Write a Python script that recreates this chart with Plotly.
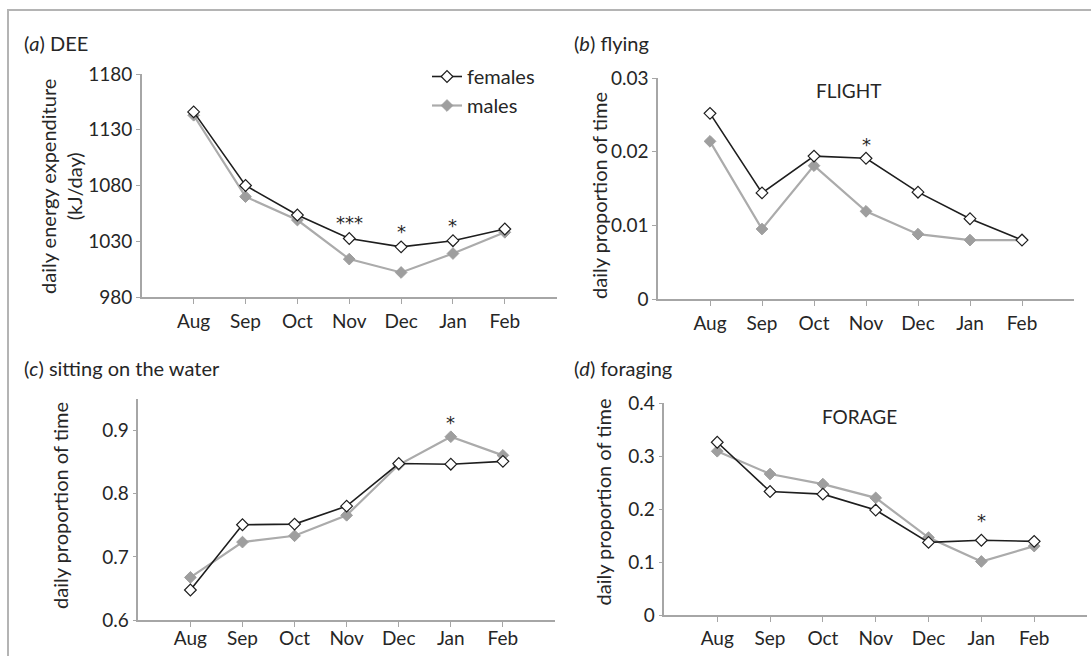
import plotly.graph_objects as go

W, H = 1091, 656
FONT = "Lato"

months = ["Aug", "Sep", "Oct", "Nov", "Dec", "Jan", "Feb"]

# (a) DEE (kJ/day)
dee_females = [1146, 1080, 1053.5, 1032.5, 1025, 1030.5, 1041]
dee_males = [1143, 1070, 1049, 1014, 1002, 1019, 1038]
dee_sig = {"Nov": "***", "Dec": "*", "Jan": "*"}

# (b) flying
fly_females = [0.0252, 0.0144, 0.0194, 0.0191, 0.0145, 0.0109, 0.0080]
fly_males = [0.0214, 0.0095, 0.0181, 0.0119, 0.0088, 0.0080, 0.0080]
fly_sig = {"Nov": "*"}

# (c) sitting on the water
sit_females = [0.6475, 0.751, 0.752, 0.7805, 0.848, 0.847, 0.8515]
sit_males = [0.6675, 0.7235, 0.7335, 0.766, 0.846, 0.8905, 0.861]
sit_sig = {"Jan": "*"}

# (d) foraging
for_females = [0.326, 0.233, 0.228, 0.198, 0.137, 0.141, 0.139]
for_males = [0.309, 0.266, 0.247, 0.221, 0.146, 0.101, 0.130]
for_sig = {"Jan": "*"}

panels = [
    dict(title="(<i>a</i>) DEE", f=dee_females, m=dee_males, sig=dee_sig,
         yr=[980, 1180], tv=[980, 1030, 1080, 1130, 1180],
         tt=["980", "1030", "1080", "1130", "1180"],
         ytitle="daily energy expenditure<br>(kJ/day)",
         xpx=(141.8, 556.7), ypx=(297, 74), title_px=(22, 43), ytitle_px=(61, 187),
         label=None, xstand=1, sigshift=3),
    dict(title="(<i>b</i>) flying", f=fly_females, m=fly_males, sig=fly_sig,
         yr=[0, 0.03], tv=[0, 0.01, 0.02, 0.03], tt=["0", "0.01", "0.02", "0.03"],
         ytitle="daily proportion of time",
         xpx=(658, 1074), ypx=(299, 78), title_px=(572, 43), ytitle_px=(599, 196),
         label=("FLIGHT", 848, 91), xstand=1, sigshift=1),
    dict(title="(<i>c</i>) sitting on the water", f=sit_females, m=sit_males, sig=sit_sig,
         yr=[0.6, 0.95], tv=[0.6, 0.7, 0.8, 0.9], tt=["0.6", "0.7", "0.8", "0.9"],
         ytitle="daily proportion of time",
         xpx=(138.3, 555), ypx=(620, 399.2), title_px=(22, 368), ytitle_px=(60, 506),
         label=None, xstand=-5, sigshift=2),
    dict(title="(<i>d</i>) foraging", f=for_females, m=for_males, sig=for_sig,
         yr=[0, 0.4], tv=[0, 0.1, 0.2, 0.3, 0.4], tt=["0", "0.1", "0.2", "0.3", "0.4"],
         ytitle="daily proportion of time",
         xpx=(664.4, 1087), ypx=(615, 403), title_px=(572, 368), ytitle_px=(602.5, 502),
         label=("FORAGE", 860, 416), xstand=0, sigshift=7),
]

AXIS_COLOR = "#a6a6a6"
TEXT_COLOR = "#262626"
FEM_COLOR = "#1e1e1e"
MALE_LINE = "#ababab"
MALE_MARK = "#9e9e9e"
FS = 19
FS_T = 20

fig = go.Figure()
layout = dict(
    width=W, height=H, autosize=False,
    margin=dict(l=0, r=0, t=0, b=0, pad=0, autoexpand=False),
    paper_bgcolor="white", plot_bgcolor="white",
    font=dict(family=FONT, size=FS, color=TEXT_COLOR),
    showlegend=True,
    legend=dict(x=427 / W, y=1 - 57 / H, xanchor="left", yanchor="top",
                bgcolor="rgba(0,0,0,0)", font=dict(size=FS_T, color=TEXT_COLOR),
                tracegroupgap=0),
)
annotations = []
xs = list(range(len(months)))

def px_x(p):
    return p / W

def px_y(p):
    return 1 - p / H

for i, p in enumerate(panels, start=1):
    xa = "x" if i == 1 else f"x{i}"
    ya = "y" if i == 1 else f"y{i}"
    fig.add_trace(go.Scatter(
        x=xs, y=p["m"], xaxis=xa, yaxis=ya, mode="lines+markers", name="males",
        legendgroup="m", legendrank=2, showlegend=(i == 1),
        line=dict(color=MALE_LINE, width=2.2),
        marker=dict(symbol="diamond", size=9, color=MALE_MARK,
                    line=dict(color=MALE_MARK, width=1)),
    ))
    fig.add_trace(go.Scatter(
        x=xs, y=p["f"], xaxis=xa, yaxis=ya, mode="lines+markers", name="females",
        legendgroup="f", legendrank=1, showlegend=(i == 1),
        line=dict(color=FEM_COLOR, width=1.6),
        marker=dict(symbol="diamond", size=9, color="white",
                    line=dict(color=FEM_COLOR, width=1.2)),
    ))
    xkey = "xaxis" if i == 1 else f"xaxis{i}"
    ykey = "yaxis" if i == 1 else f"yaxis{i}"
    layout[xkey] = dict(
        domain=[px_x(p["xpx"][0]), px_x(p["xpx"][1])], anchor=ya,
        range=[-1, 7], tickmode="array", tickvals=xs, ticktext=months,
        showline=True, linecolor=AXIS_COLOR, linewidth=1.5,
        ticks="outside", ticklen=5, tickcolor=AXIS_COLOR, tickwidth=1,
        showgrid=False, zeroline=False, fixedrange=True, automargin=False,
        ticklabelstandoff=p["xstand"],
        tickfont=dict(family=FONT, size=FS, color=TEXT_COLOR),
    )
    layout[ykey] = dict(
        domain=[px_y(p["ypx"][0]), px_y(p["ypx"][1])], anchor=xa,
        range=p["yr"], tickmode="array", tickvals=p["tv"], ticktext=p["tt"],
        showline=True, linecolor=AXIS_COLOR, linewidth=1.5,
        ticks="outside", ticklen=4, tickcolor=AXIS_COLOR, tickwidth=1,
        showgrid=False, zeroline=False, fixedrange=True, automargin=False,
        tickfont=dict(family=FONT, size=FS, color=TEXT_COLOR),
    )
    # panel title
    annotations.append(dict(
        text=p["title"], xref="paper", yref="paper",
        x=px_x(p["title_px"][0]), y=px_y(p["title_px"][1]),
        xanchor="left", yanchor="middle", showarrow=False,
        font=dict(family=FONT, size=FS_T, color=TEXT_COLOR),
    ))
    # y-axis title
    annotations.append(dict(
        text=p["ytitle"], xref="paper", yref="paper",
        x=px_x(p["ytitle_px"][0]), y=px_y(p["ytitle_px"][1]),
        xanchor="center", yanchor="middle", showarrow=False, textangle=-90,
        font=dict(family=FONT, size=FS_T, color=TEXT_COLOR),
    ))
    if p["label"]:
        t, lx, ly = p["label"]
        annotations.append(dict(
            text=t, xref="paper", yref="paper", x=px_x(lx), y=px_y(ly),
            xanchor="center", yanchor="middle", showarrow=False,
            font=dict(family=FONT, size=FS, color=TEXT_COLOR),
        ))
    for mon, s in p["sig"].items():
        k = months.index(mon)
        annotations.append(dict(
            text=s, xref=xa, yref=ya, x=k, y=max(p["f"][k], p["m"][k]),
            xanchor="center", yanchor="bottom", yshift=p["sigshift"], showarrow=False,
            font=dict(family="DejaVu Sans", size=18, color=TEXT_COLOR),
        ))

layout["annotations"] = annotations
layout["shapes"] = [dict(
    type="rect", xref="paper", yref="paper",
    x0=8 / W, x1=1.02, y0=-0.02, y1=1 - 10 / H,
    line=dict(color="#b4b4b4", width=2), fillcolor="rgba(0,0,0,0)", layer="below",
)]
fig.update_layout(**layout)
fig.write_html("out.html")
